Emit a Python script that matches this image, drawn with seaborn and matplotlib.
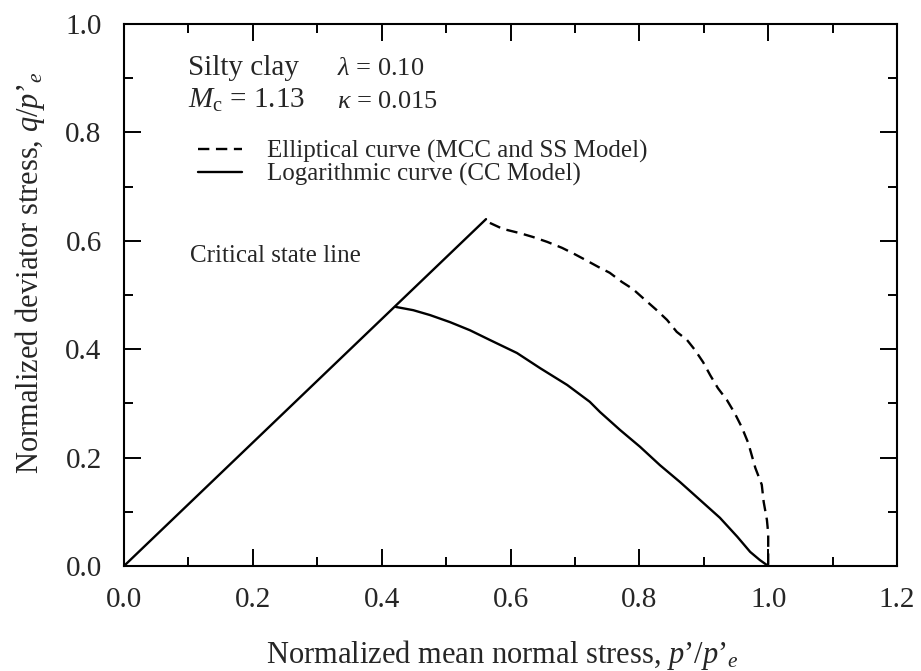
import matplotlib
matplotlib.use("Agg")
import matplotlib.pyplot as plt
from matplotlib.lines import Line2D
from matplotlib.ticker import MultipleLocator
import numpy as np
import pandas as pd
import seaborn as sns

# Critical state line (q = Mc * p')
csl_p = [0.0, 0.562]
csl_q = [0.0, 0.640]

# Elliptical undrained path (MCC and SS model)
ell_p = [0.568, 0.588, 0.615, 0.635, 0.657, 0.680, 0.697, 0.716, 0.736, 0.754,
         0.773, 0.790, 0.806, 0.827, 0.843, 0.858, 0.874, 0.886, 0.899, 0.910,
         0.922, 0.936, 0.948, 0.959, 0.969, 0.980, 0.990, 0.993, 0.998, 1.000, 1.000]
ell_q = [0.633, 0.622, 0.614, 0.607, 0.598, 0.587, 0.577, 0.565, 0.552, 0.541,
         0.524, 0.511, 0.494, 0.472, 0.454, 0.432, 0.417, 0.399, 0.376, 0.352,
         0.328, 0.306, 0.282, 0.256, 0.227, 0.181, 0.150, 0.118, 0.085, 0.060, 0.000]

# Logarithmic undrained path (CC model)
log_p = [0.422, 0.449, 0.475, 0.506, 0.537, 0.568, 0.610, 0.646, 0.688, 0.723,
         0.739, 0.770, 0.801, 0.832, 0.863, 0.894, 0.925, 0.952, 0.972, 0.987, 1.000]
log_q = [0.478, 0.472, 0.463, 0.450, 0.435, 0.417, 0.393, 0.365, 0.334, 0.303,
         0.284, 0.251, 0.220, 0.186, 0.155, 0.122, 0.089, 0.054, 0.026, 0.011, 0.000]

x_ticks = [0.0, 0.2, 0.4, 0.6, 0.8, 1.0, 1.2]
y_ticks = [0.0, 0.2, 0.4, 0.6, 0.8, 1.0]

label_ell = "Elliptical curve (MCC and SS Model)"
label_log = "Logarithmic curve (CC Model)"

df = pd.concat([
    pd.DataFrame({"p": csl_p, "q": csl_q, "curve": "csl"}),
    pd.DataFrame({"p": ell_p, "q": ell_q, "curve": "ell"}),
    pd.DataFrame({"p": log_p, "q": log_q, "curve": "log"}),
], ignore_index=True)

sns.set_theme(style="ticks")
plt.rcParams["font.family"] = ["Liberation Serif", "DejaVu Serif"]
plt.rcParams["mathtext.fontset"] = "custom"
plt.rcParams["mathtext.rm"] = "Liberation Serif"
plt.rcParams["mathtext.it"] = "Liberation Serif:italic"
plt.rcParams["mathtext.bf"] = "Liberation Serif:bold"

fig = plt.figure(figsize=(9.21, 6.71), dpi=100)
ax = fig.add_axes([0.1346, 0.1565, 0.8394, 0.8077])

dash_map = {"csl": "", "ell": (4.8, 2.8), "log": ""}
sns.lineplot(data=df, x="p", y="q", style="curve", units="curve",
             estimator=None, sort=False, color="black", linewidth=1.7,
             dashes=dash_map, legend=False, ax=ax)

ax.set_xlim(0.0, 1.2)
ax.set_ylim(0.0, 1.0)
ax.set_xticks(x_ticks)
ax.set_yticks(y_ticks)
ax.set_xticklabels([f"{v:.1f}" for v in x_ticks])
ax.set_yticklabels([f"{v:.1f}" for v in y_ticks])
ax.xaxis.set_minor_locator(MultipleLocator(0.1))
ax.yaxis.set_minor_locator(MultipleLocator(0.1))
ax.tick_params(which="both", direction="in", top=True, right=True,
               color="black", width=1.4)
ax.tick_params(which="major", length=12.5, labelsize=21)
ax.tick_params(which="minor", length=6.5)
ax.tick_params(axis="x", which="major", pad=15)
ax.tick_params(axis="y", which="major", pad=16)
for s in ax.spines.values():
    s.set_linewidth(1.5)
    s.set_color("black")

ax.set_xlabel("Normalized mean normal stress, $p’/p’_e$", fontsize=22)
ax.set_ylabel("Normalized deviator stress, $q/p’_e$", fontsize=22)
ax.xaxis.set_label_coords(0.489, -0.132)
ax.yaxis.set_label_coords(-0.100, 0.542)

ax.text(0.0994, 0.906, "Silty clay", fontsize=21, va="baseline")
ax.text(0.331, 0.906, r"$\lambda$ = 0.10", fontsize=19, va="baseline")
ax.text(0.0994, 0.845, r"$M_{\mathrm{c}}$ = 1.13", fontsize=21, va="baseline")
ax.text(0.331, 0.845, r"$\kappa$ = 0.015", fontsize=19, va="baseline")
ax.text(0.1025, 0.561, "Critical state line", fontsize=18, va="baseline")

handles = [
    Line2D([0], [0], color="black", linewidth=1.7, dashes=(4.8, 2.8)),
    Line2D([0], [0], color="black", linewidth=1.7),
]
ax.legend(handles, [label_ell, label_log], loc="upper left",
          bbox_to_anchor=(0.0957, 0.786), frameon=False, fontsize=18,
          handlelength=1.76, handletextpad=1.0, labelspacing=0.0,
          borderpad=0.0, borderaxespad=0.0)

fig.savefig("out.png", dpi=100, facecolor="white")
